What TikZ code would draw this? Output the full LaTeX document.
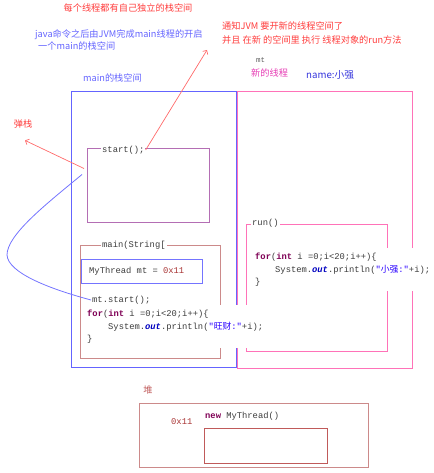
\documentclass[tikz,border=0pt]{standalone}
\usepackage{fontspec}
\setmainfont{Liberation Sans}
\newfontfamily\cjk{Noto Sans CJK SC}
\newfontfamily\code{Liberation Mono}
\usepackage{tikz}
\usetikzlibrary{arrows.meta, positioning}
\usepackage{xcolor}
\definecolor{noteblue}{HTML}{6464FF}
\definecolor{namblue}{HTML}{3434DC}
\definecolor{notered}{HTML}{FF3C3C}
\definecolor{arrowred}{HTML}{FF6A6A}
\definecolor{threadpink}{HTML}{FF72B8}
\definecolor{pinktext}{HTML}{E63CB4}
\definecolor{framepurple}{HTML}{B46EB4}
\definecolor{heaprose}{HTML}{CC8A8A}
\definecolor{innerrose}{HTML}{C05A5A}
\definecolor{addrred}{HTML}{A83434}
\definecolor{kwpurple}{HTML}{7F0055}
\definecolor{fieldblue}{HTML}{0000C0}
\definecolor{strblue}{HTML}{2A00FF}
\definecolor{codegray}{HTML}{3C3C3C}

\newcommand{\kw}[1]{\textcolor{kwpurple}{\bfseries #1}}
\newcommand{\fld}[1]{\textcolor{fieldblue}{\bfseries\itshape #1}}
\newcommand{\str}[1]{\textcolor{strblue}{#1}}

\tikzset{
  note/.style={font=\cjk\fontsize{9.2}{12}\selectfont, inner sep=1pt, align=left},
  codeline/.style={font=\code\fontsize{8.8}{12.3}\selectfont, text=codegray,
                   anchor=west, inner sep=1pt, fill=white},
  codeblock/.style={codeline, align=left, anchor=north west,
                    inner xsep=2pt, inner ysep=5pt},
  frame/.style={line width=1pt, minimum width=#1, anchor=north west},
  popline/.style={draw=arrowred, line width=0.7pt,
                  -{Straight Barb[length=3pt, width=6pt]}},
}

\begin{document}
\begin{tikzpicture}[x=1pt, y=-1pt]
\useasboundingbox (0,0) rectangle (433,473);

% stacks
\node[frame=175pt, draw=threadpink, minimum height=277pt] (newstack) at (237,91) {};
\node[frame=165pt, draw=noteblue, minimum height=276pt] (mainstack) at (71,91) {};
\node[frame=122pt, draw=framepurple, minimum height=74pt] (startbox) at (87,148) {};
\node[frame=140pt, draw=heaprose, minimum height=113pt] (mainframe) at (80,245) {};
\node[frame=121pt, draw=noteblue!90, minimum height=24pt] (mtbox) at (81,259) {};
\node[frame=141pt, draw=threadpink, minimum height=127pt] (runbox) at (246,224) {};

% heap
\node[frame=229pt, draw=heaprose, minimum height=64pt] (heap) at (139,403) {};
\node[frame=123pt, draw=innerrose, minimum height=35pt] (threadobj) at (204,428) {};

% notes
\node[note, text=notered] (title) at (128,8) {每个线程都有自己独立的栈空间};
\node[note, text=noteblue, anchor=north west] (jvmnote) at (34,28)
  {java命令之后由JVM完成main线程的开启\\\hspace*{3pt}一个main的栈空间};
\node[note, text=notered, anchor=north west, font=\cjk\fontsize{9.2}{13.5}\selectfont]
  (notify) at (221,21)
  {通知JVM 要开新的线程空间了\\并且 在新 的空间里 执行 线程对象的run方法};
\coordinate (notifyptr) at (207,50);
\node[codeline, fill=none, text=codegray!80, font=\code\fontsize{7.5}{9}\selectfont]
  (mtname) at (255,60) {mt};
\node[note, text=pinktext, anchor=west] (newthread) at (250,73) {新的线程};
\node[note, text=namblue, anchor=west, font=\cjk\fontsize{9.7}{12}\selectfont]
  (tname) at (305,75) {name:小强};
\node[note, text=noteblue, anchor=west] (mainname) at (82,78) {main的栈空间};
\node[note, text=notered] (pop) at (23,124) {弹栈};
\node[note, text=innerrose] (heapname) at (148,390) {堆};

% main stack code
\node[codeline] (startlbl) at (101,150) {start();};
\node[codeline] (mainlbl) at (101,245) {main(String[};
\node[codeline, fill=none] (mtdecl) at (88,271)
  {MyThread mt = \textcolor{addrred}{0x11}};
\node[codeline] (mtstart) at (91,300) {mt.start();};
\node[codeblock] (mainloop) at (85,305)
  {\kw{for}(\kw{int} i =0;i<20;i++)\{\\
   \hspace*{21pt}System.\fld{out}.println(\str{"{\cjk 旺财}:"}+i);\\
   \}};

% new thread code
\node[codeline] (runlbl) at (251,223) {run()};
\node[codeblock] (runloop) at (253,248)
  {\kw{for}(\kw{int} i =0;i<20;i++)\{\\
   \hspace*{20pt}System.\fld{out}.println(\str{"{\cjk 小强}:"}+i);\\
   \}};

% heap code
\node[codeline, fill=none, text=addrred] (addr) at (170,422) {0x11};
\node[codeline, fill=none] (newobj) at (204,416) {\kw{new} MyThread()};

% connectors
\draw[popline] (startlbl.east) -- (notifyptr);
\draw[popline] ([shift={(-3,-17)}]startbox.west) -- ([shift={(2,11)}]pop.south);
\draw[noteblue!90, line width=0.8pt]
  ([shift={(-5,-11)}]startbox.west) .. controls (45,205) and (7,235) .. (7,255)
  .. controls (8,273) and (50,289) .. (mtstart.west);
\end{tikzpicture}
\end{document}
